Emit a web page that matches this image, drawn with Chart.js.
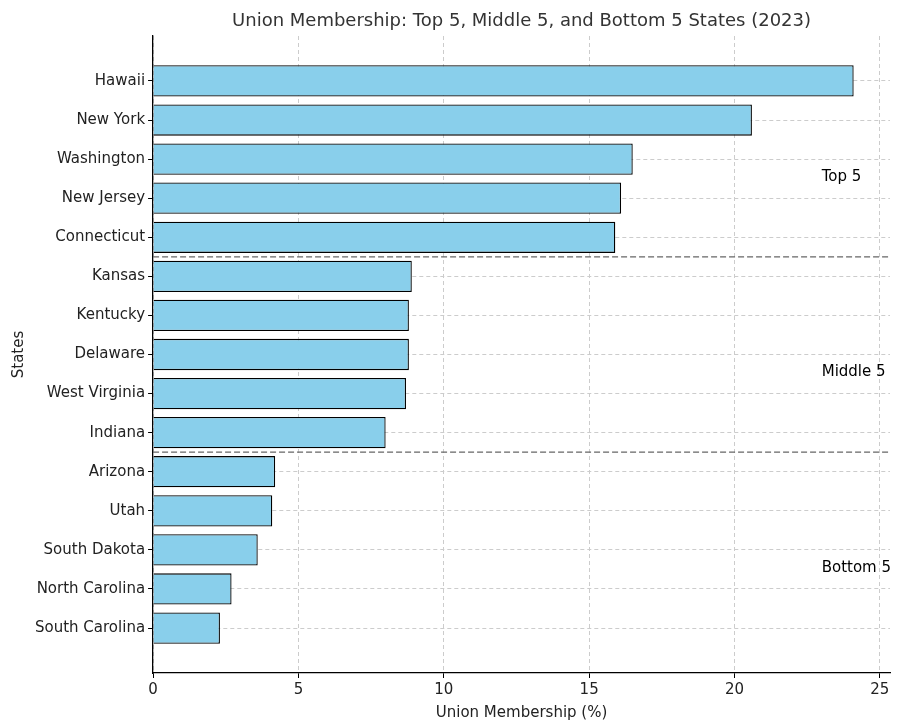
<!DOCTYPE html>
<html>
<head>
<meta charset="utf-8">
<script src="https://cdn.jsdelivr.net/npm/chart.js@4"></script>
<style>
  body { margin: 0; background: #fff; }
  #wrap { width: 900px; height: 726px; }
</style>
</head>
<body>
<div id="wrap"><canvas id="graph"></canvas></div>
<script>
const states = ["Hawaii", "New York", "Washington", "New Jersey", "Connecticut",
  "Kansas", "Kentucky", "Delaware", "West Virginia", "Indiana",
  "Arizona", "Utah", "South Dakota", "North Carolina", "South Carolina"];
const membership = [24.1, 20.6, 16.5, 16.1, 15.9, 8.9, 8.8, 8.8, 8.7, 8.0, 4.2, 4.1, 3.6, 2.7, 2.3];
const groupNames = ["Top 5", "Middle 5", "Bottom 5"];
const xTicks = [0, 5, 10, 15, 20, 25];
const chartTitle = 'Union Membership: Top 5, Middle 5, and Bottom 5 States (2023)';

Chart.defaults.font.family = "DejaVu Sans";
Chart.defaults.color = "#222";

// separators between groups, group labels, title centred on plot area
const groupsPlugin = {
  id: 'groups',
  afterDatasetsDraw(chart) {
    const c = chart.ctx, x = chart.scales.x, y = chart.scales.y, a = chart.chartArea;
    c.save();
    c.strokeStyle = '#666';
    c.lineWidth = 1.2;
    c.setLineDash([6, 3]);
    [4.5, 9.5].forEach(v => {
      const py = y.getPixelForValue(v);
      c.beginPath();
      c.moveTo(a.left, py);
      c.lineTo(a.right, py);
      c.stroke();
    });
    c.setLineDash([]);
    c.fillStyle = '#000';
    c.font = '15px DejaVu Sans';
    c.textBaseline = 'middle';
    groupNames.forEach((g, i) => {
      c.fillText(g, x.getPixelForValue(23), y.getPixelForValue(i * 5 + 2.46));
    });
    c.fillStyle = '#333';
    c.font = '18px DejaVu Sans';
    c.textAlign = 'center';
    c.fillText(chartTitle, (a.left + a.right) / 2, 21);
    c.restore();
  }
};

new Chart(document.getElementById('graph'), {
  type: 'bar',
  data: {
    datasets: [{
      data: membership.map((v, i) => ({ x: v, y: i })),
      backgroundColor: '#89cfeb',
      borderColor: '#000',
      borderWidth: 1.3,
      barPercentage: 0.8,
      categoryPercentage: 1
    }]
  },
  options: {
    indexAxis: 'y',
    animation: false,
    responsive: true,
    maintainAspectRatio: false,
    layout: { padding: { right: 10, top: 36, left: 6 } },
    plugins: {
      legend: { display: false },
      tooltip: { enabled: false },
      title: { display: false }
    },
    scales: {
      x: {
        type: 'linear',
        min: 0,
        max: 25.35,
        afterBuildTicks: s => { s.ticks = xTicks.map(v => ({ value: v })); },
        ticks: { font: { size: 15 }, color: '#222' },
        grid: { color: '#cccccc', tickColor: '#000', tickLength: 5 },
        border: { color: '#000', width: 1.3, dash: [4, 3] },
        title: { display: true, text: 'Union Membership (%)', font: { size: 15 }, padding: { top: 2 } }
      },
      y: {
        type: 'linear',
        reverse: true,
        offset: false,
        min: -1.15,
        max: 15.15,
        afterBuildTicks: s => { s.ticks = states.map((_, i) => ({ value: i })); },
        ticks: { callback: v => states[v], font: { size: 15 }, color: '#222', autoSkip: false },
        grid: { offset: false, color: '#cccccc', tickColor: '#000', tickLength: 5 },
        border: { color: '#000', width: 1.3, dash: [4, 3] },
        title: { display: true, text: 'States', font: { size: 15 } }
      }
    }
  },
  plugins: [groupsPlugin]
});
</script>
</body>
</html>
